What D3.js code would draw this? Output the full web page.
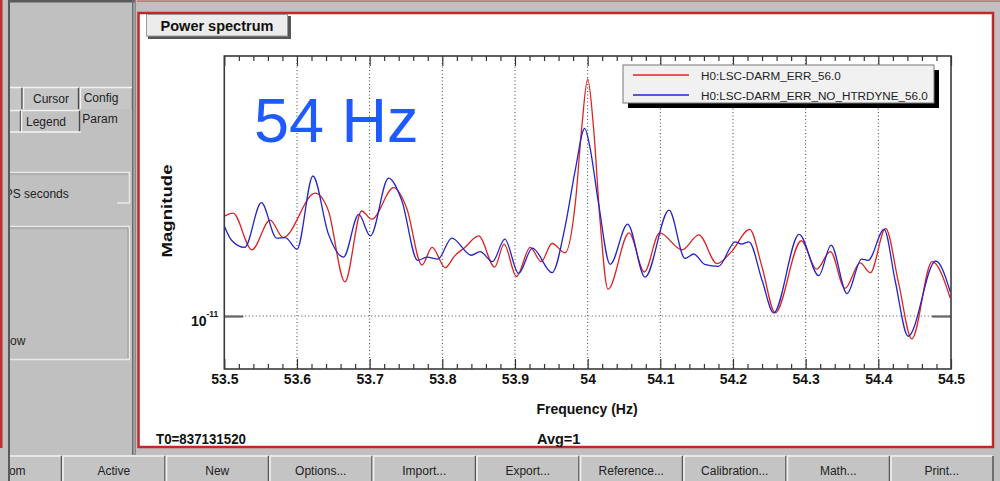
<!DOCTYPE html>
<html>
<head>
<meta charset="utf-8">
<script src="https://cdn.jsdelivr.net/npm/d3@7"></script>
<style>
body{margin:0;background:#c0c0c0;overflow:hidden;}
text{font-family:"Liberation Sans",Arial,Helvetica,sans-serif;}
</style>
</head>
<body>
<div id="chart"></div>
<script>
// values (magnitude, log axis)
var freqRed = [53.500,53.512,53.538,53.563,53.581,53.625,53.643,53.666,53.689,53.703,53.733,53.751,53.772,53.786,53.804,53.817,53.831,53.850,53.872,53.885,53.902,53.921,53.936,53.951,53.969,53.983,53.992,54.000,54.008,54.017,54.028,54.057,54.078,54.099,54.130,54.153,54.178,54.198,54.223,54.240,54.258,54.294,54.315,54.334,54.354,54.375,54.389,54.410,54.428,54.446,54.474,54.499];
var magRed = [2.51,2.58,1.84,2.42,2.06,3.10,2.65,1.37,2.63,2.44,3.26,2.70,1.60,1.88,1.56,1.74,1.88,2.09,1.57,1.94,1.44,1.88,1.65,1.95,1.79,2.82,5.72,8.85,5.72,2.42,1.28,2.15,1.50,2.15,1.84,2.11,1.62,1.81,2.22,1.57,1.03,2.00,1.54,1.81,1.29,1.63,1.49,2.24,1.35,0.81,1.65,1.18];
var freqBlue = [53.500,53.510,53.528,53.551,53.572,53.584,53.600,53.622,53.643,53.664,53.685,53.701,53.726,53.744,53.766,53.779,53.794,53.813,53.840,53.852,53.869,53.886,53.905,53.924,53.951,53.969,53.983,53.996,54.003,54.015,54.031,54.055,54.079,54.112,54.134,54.146,54.161,54.180,54.203,54.212,54.222,54.240,54.256,54.291,54.318,54.335,54.357,54.377,54.386,54.408,54.423,54.441,54.479,54.499];
var magBlue = [2.29,2.01,1.88,2.84,2.05,2.06,1.85,3.63,2.14,1.72,2.55,2.09,3.56,2.91,1.67,1.72,1.69,2.05,1.75,1.81,1.65,2.03,1.48,1.87,1.49,2.28,3.84,5.63,4.75,2.82,1.61,2.33,1.43,2.65,1.70,1.77,1.61,1.58,1.98,1.94,1.98,1.39,1.03,2.12,1.45,1.92,1.23,1.69,1.67,2.22,1.39,0.83,1.66,1.25];
var magUnit = 1e-11;
var seriesNames = ["H0:LSC-DARM_ERR_56.0","H0:LSC-DARM_ERR_NO_HTRDYNE_56.0"];
var seriesColors = ["#dd2424","#2424c8"];
var xTicks = [53.5,53.6,53.7,53.8,53.9,54.0,54.1,54.2,54.3,54.4,54.5];
var xTickLabels = ["53.5","53.6","53.7","53.8","53.9","54","54.1","54.2","54.3","54.4","54.5"];
var yTicks = [1e-11];
var buttonLabels = ["Zoom","Active","New","Options...","Import...","Export...","Reference...","Calibration...","Math...","Print..."];

var W = 1000, H = 481;
var svg = d3.select("#chart").append("svg").attr("width",W).attr("height",H);
var gray = "#c0c0c0", dark = "#5a5a5a";

svg.append("rect").attr("width",W).attr("height",H).attr("fill",gray);

// ---------- window frame / left panel ----------
svg.append("rect").attr("x",0).attr("y",0).attr("width",2.5).attr("height",448).attr("fill","#c03030");
svg.append("rect").attr("x",8).attr("y",0).attr("width",2).attr("height",H).attr("fill",dark);
svg.append("rect").attr("x",10).attr("y",0).attr("width",125).attr("height",2.5).attr("fill",dark);
svg.append("rect").attr("x",132).attr("y",0).attr("width",1.5).attr("height",455).attr("fill","#6a6a6a");
svg.append("rect").attr("x",134.5).attr("y",0).attr("width",1.5).attr("height",455).attr("fill","#8a8a8a");
svg.append("line").attr("x1",137).attr("x2",W).attr("y1",1.2).attr("y2",1.2).attr("stroke","#c86060").attr("stroke-width",1.2);

svg.append("clipPath").attr("id","leftclip").append("rect").attr("x",10).attr("y",0).attr("width",122).attr("height",H);
var left = svg.append("g").attr("clip-path","url(#leftclip)");

function tab(x,y,w,h,label,tx,ty,fill){
	left.append("rect").attr("x",x).attr("y",y).attr("width",w).attr("height",h).attr("fill",fill);
	left.append("path").attr("d","M"+(x+0.5)+","+(y+h)+"V"+(y+0.5)+"H"+(x+w-1)).attr("fill","none").attr("stroke","#f4f4f4").attr("stroke-width",1.3);
	left.append("line").attr("x1",x+w-0.5).attr("x2",x+w-0.5).attr("y1",y+1).attr("y2",y+h).attr("stroke","#4a4a4a").attr("stroke-width",1.4);
	if(label){
		left.append("text").attr("x",tx).attr("y",ty).attr("text-anchor","middle").attr("font-size",12).attr("fill","#222").text(label);
	}
}
tab(0,87,22.5,22,"",0,0,"#c6c6c6");
tab(23,87,56,22,"Cursor",51,103,"#c6c6c6");
tab(80,87,53,22,"Config",101,102,"#c6c6c6");
tab(0,110,21,22,"",0,0,"#c2c2c2");
tab(21,110,59,22,"Legend",46,126,"#c2c2c2");
left.append("text").attr("x",100).attr("y",123).attr("text-anchor","middle").attr("font-size",12).attr("fill","#222").text("Param");
left.append("line").attr("x1",10).attr("x2",81).attr("y1",132).attr("y2",132).attr("stroke","#f4f4f4").attr("stroke-width",1.3);

// group boxes (their labels are cut by the panel edge, as in the window)
left.append("path").attr("d","M10,172.5H129.5V203M117,203H129.5").attr("fill","none").attr("stroke","#e8e8e8").attr("stroke-width",1.5);
left.append("path").attr("d","M10,174H128").attr("fill","none").attr("stroke","#9a9a9a");
left.append("text").attr("x",-4.6).attr("y",198).attr("font-size",12).attr("fill","#222").text("GPS seconds");
left.append("path").attr("d","M10,226.5H129.5V359.5H10").attr("fill","none").attr("stroke","#e8e8e8").attr("stroke-width",1.5);
left.append("path").attr("d","M10,228H128V358").attr("fill","none").attr("stroke","#9a9a9a");
left.append("text").attr("x",1.3).attr("y",345).attr("font-size",12).attr("fill","#222").text("Now");

// ---------- plot pane ----------
svg.append("rect").attr("x",138.5).attr("y",13).attr("width",854.5).attr("height",434)
	.attr("fill","#fff").attr("stroke","#c4262a").attr("stroke-width",2.5);

// title button
svg.append("rect").attr("x",148).attr("y",16).attr("width",143).attr("height",23).attr("fill","#555");
svg.append("rect").attr("x",146.5).attr("y",14.5).attr("width",141).attr("height",21.5).attr("fill","#ececec").attr("stroke","#999").attr("stroke-width",1);
svg.append("text").attr("x",217).attr("y",31).attr("text-anchor","middle").attr("font-size",14.5).attr("font-weight","bold").attr("fill","#111").text("Power spectrum");

var m = {left:224.3,right:951,top:56,bottom:369};
var x = d3.scaleLinear().domain([53.5,54.5]).range([m.left,m.right]);
var y = d3.scaleLog().domain([0.614e-11,10.96e-11]).range([m.bottom,m.top]);

var plot = svg.append("g");

// grid
var gridX = xTicks.slice(1,-1);
plot.append("g").selectAll("line").data(gridX).enter().append("line")
	.attr("x1",function(d){return x(d);}).attr("x2",function(d){return x(d);})
	.attr("y1",m.top).attr("y2",m.bottom)
	.attr("stroke","#444").attr("stroke-width",1).attr("stroke-dasharray","1,2.5");
plot.append("g").selectAll("line").data(yTicks).enter().append("line")
	.attr("x1",m.left).attr("x2",m.right)
	.attr("y1",function(d){return y(d);}).attr("y2",function(d){return y(d);})
	.attr("stroke","#444").attr("stroke-width",1).attr("stroke-dasharray","1,2.5");

// curves
svg.append("clipPath").attr("id","plotclip").append("rect").attr("x",m.left).attr("y",m.top).attr("width",m.right-m.left).attr("height",m.bottom-m.top);
var line = d3.line().x(function(d){return x(d[0]);}).y(function(d){return y(d[1]*magUnit);}).curve(d3.curveMonotoneX);
var series = [d3.zip(freqRed,magRed), d3.zip(freqBlue,magBlue)];
plot.append("g").attr("clip-path","url(#plotclip)").selectAll("path").data(series).enter().append("path")
	.attr("d",line).attr("fill","none")
	.attr("stroke",function(d,i){return seriesColors[i];}).attr("stroke-width",1.3);

// axes
var minorTicks = d3.range(0,51).map(function(i){return 53.5+i*0.02;}).filter(function(d,i){return i%5!=0;});
function styleAxis(g){
	g.select(".domain").remove();
	g.selectAll(".tick line").attr("stroke","#333").attr("stroke-width",1.2);
}
plot.append("g").attr("transform","translate(0,"+m.bottom+")")
	.call(d3.axisBottom(x).tickValues(minorTicks).tickSize(-5).tickFormat("")).call(styleAxis);
plot.append("g").attr("transform","translate(0,"+m.top+")")
	.call(d3.axisTop(x).tickValues(minorTicks).tickSize(-5).tickFormat("")).call(styleAxis);
plot.append("g").attr("transform","translate(0,"+m.top+")")
	.call(d3.axisTop(x).tickValues(xTicks).tickSize(-10).tickFormat("")).call(styleAxis);
var xAxis = plot.append("g").attr("transform","translate(0,"+m.bottom+")")
	.call(d3.axisBottom(x).tickValues(xTicks).tickSize(-10).tickPadding(5.5)
		.tickFormat(function(d,i){return xTickLabels[i];}))
	.call(styleAxis);
xAxis.selectAll(".tick text").attr("font-size",14).attr("font-weight","bold").attr("fill","#111")
	.attr("font-family","'Liberation Sans',Arial,sans-serif");

var yL = plot.append("g").attr("transform","translate("+m.left+",0)")
	.call(d3.axisLeft(y).tickValues(yTicks).tickSize(-19).tickFormat("")).call(styleAxis);
var yR = plot.append("g").attr("transform","translate("+m.right+",0)")
	.call(d3.axisRight(y).tickValues(yTicks).tickSize(-19).tickFormat("")).call(styleAxis);
yL.selectAll(".tick line").attr("stroke","#666").attr("stroke-width",2.2);
yR.selectAll(".tick line").attr("stroke","#666").attr("stroke-width",2.2);
yL.selectAll(".tick").each(function(d){
	var t = d3.select(this).append("text").attr("x",-6).attr("y",9).attr("text-anchor","end")
		.attr("font-weight","bold").attr("fill","#111").attr("font-family","'Liberation Sans',Arial,sans-serif");
	var e = Math.round(Math.log10(d));
	t.append("tspan").attr("font-size",14).text("10");
	t.append("tspan").attr("font-size",8.5).attr("dy",-9).text(String(e));
});

// frame
plot.append("rect").attr("x",m.left).attr("y",m.top).attr("width",m.right-m.left).attr("height",m.bottom-m.top)
	.attr("fill","none").attr("stroke","#3a3a3a").attr("stroke-width",1.6);

// axis titles
svg.append("text").attr("x",587).attr("y",414).attr("text-anchor","middle").attr("font-size",14).attr("font-weight","bold").attr("fill","#111").text("Frequency (Hz)");
svg.append("text").attr("transform","translate(171.5,211) rotate(-90)").attr("text-anchor","middle")
	.attr("font-size",15).attr("font-weight","bold").attr("fill","#111")
	.attr("textLength",93).attr("lengthAdjust","spacingAndGlyphs").text("Magnitude");

// annotation
svg.append("text").attr("x",254).attr("y",142).attr("font-size",63).attr("fill","#1e5aff").text("54 Hz");

// legend
var lg = svg.append("g").attr("transform","translate(623,65)");
lg.append("rect").attr("x",5).attr("y",5).attr("width",311).attr("height",38).attr("fill","#000");
lg.append("rect").attr("x",0).attr("y",0).attr("width",311).attr("height",38).attr("fill","#f1f1f1").attr("stroke","#777");
lg.selectAll("line.s").data(seriesNames).enter().append("line")
	.attr("x1",10).attr("x2",66).attr("y1",function(d,i){return 10+i*20;}).attr("y2",function(d,i){return 10+i*20;})
	.attr("stroke",function(d,i){return seriesColors[i];}).attr("stroke-width",1.3);
lg.selectAll("text").data(seriesNames).enter().append("text")
	.attr("x",78).attr("y",function(d,i){return 15+i*20;}).attr("font-size",11.7).attr("fill","#222").text(function(d){return d;});

// status line
svg.append("text").attr("x",156).attr("y",444).attr("font-size",14.5).attr("font-weight","bold").attr("fill","#111")
	.attr("textLength",90).attr("lengthAdjust","spacingAndGlyphs").text("T0=837131520");
svg.append("text").attr("x",537).attr("y",444).attr("font-size",14.5).attr("font-weight","bold").attr("fill","#111").text("Avg=1");

// ---------- button row ----------
svg.append("clipPath").attr("id","btnclip").append("rect").attr("x",10).attr("y",448).attr("width",990).attr("height",40);
var bw = 103.5, bx0 = -41.5;
var btn = svg.append("g").attr("clip-path","url(#btnclip)").selectAll("g").data(buttonLabels).enter().append("g")
	.attr("transform",function(d,i){return "translate("+(bx0+i*bw)+",455)";});
btn.append("rect").attr("width",bw).attr("height",26).attr("fill","#c4c4c4");
btn.append("path").attr("d","M1,26V1H"+(bw-1)).attr("fill","none").attr("stroke","#f2f2f2").attr("stroke-width",1.5);
btn.append("line").attr("x1",bw-0.5).attr("x2",bw-0.5).attr("y1",1).attr("y2",26).attr("stroke","#555").attr("stroke-width",1.5);
btn.append("text").attr("x",bw/2).attr("y",19.5).attr("text-anchor","middle").attr("font-size",12).attr("fill","#222").text(function(d){return d;});
</script>
</body>
</html>
